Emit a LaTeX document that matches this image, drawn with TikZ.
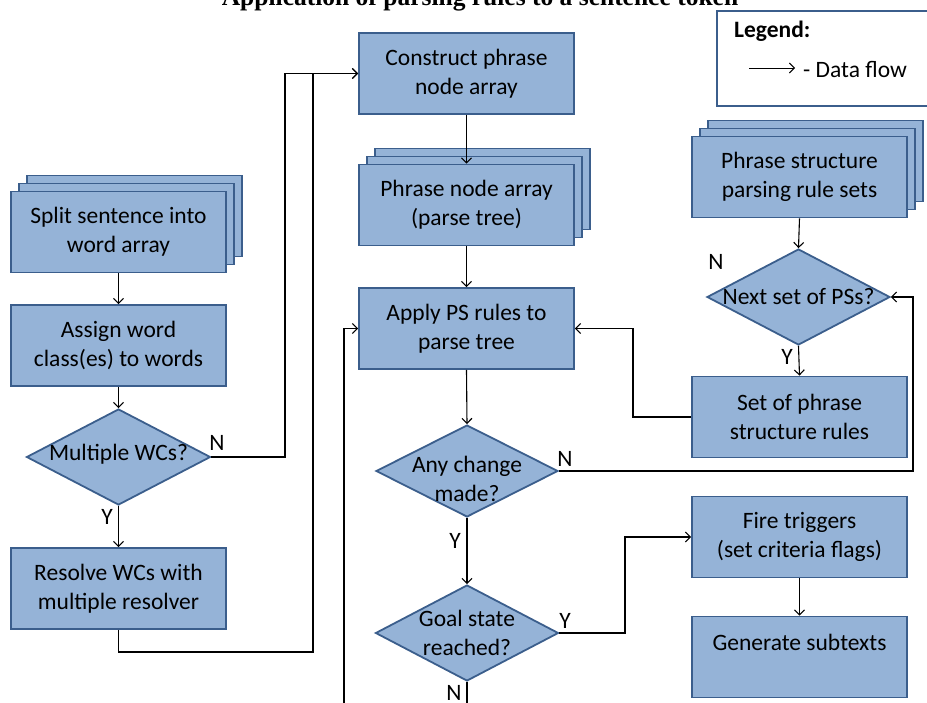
\documentclass[tikz,border=0pt]{standalone}
\usepackage{fontspec}
\setmainfont{Carlito}
\newfontfamily\titlefont{Liberation Serif}
\usetikzlibrary{arrows.meta,shapes.geometric,shadows,calc}
\definecolor{boxfill}{HTML}{95B3D7}
\definecolor{boxline}{HTML}{3B5E8C}
\begin{document}
\begin{tikzpicture}[x=1pt,y=-1pt,
  txt/.style={font=\fontsize{23.5}{29}\selectfont, align=center, text=black},
  proc/.style={txt, rectangle, fill=boxfill, draw=boxline, line width=1.8pt,
    minimum width=215pt, minimum height=81pt, inner sep=0pt},
  stack/.style={proc, double copy shadow={shadow xshift=8pt, shadow yshift=8pt, fill=boxfill, draw=boxline, line width=1.8pt}},
  decision/.style={diamond, fill=boxfill, draw=boxline, line width=1.8pt,
    minimum width=184pt, minimum height=96pt, inner sep=0pt},
  yn/.style={txt, inner sep=0pt},
  arr/.style={-{Straight Barb[length=5pt,width=10pt]}, line width=1.1pt},
  conn/.style={line width=1.1pt}
]
\useasboundingbox (0,0) rectangle (927,702);

% title
\node[anchor=base, font=\titlefont\bfseries\fontsize{25.5}{30}\selectfont, inner sep=0pt] (title) at (480,5) {Application of parsing rules to a sentence token};

% legend
\node[anchor=north west, draw=boxline, line width=1.8pt, fill=white, minimum width=226pt, minimum height=95pt, inner sep=0pt] (legend) at (716,10) {};
\node[txt, anchor=base west, inner sep=0pt, font=\fontsize{23.5}{29}\selectfont\bfseries] (legtitle) at (734,37) {Legend:};
\coordinate (la) at (749,68);
\coordinate (lb) at (795,68);
\draw[-{Straight Barb[length=5pt,width=10pt]}, line width=0.9pt] (la) -- (lb);
\node[txt, anchor=base west, inner sep=0pt] (legtext) at (803,77) {- Data flow};

% left column
\node[stack] (split) at (118.5,232) {Split sentence into\\word array};
\node[proc] (assign) at (118.5,345.5) {Assign word\\class(es) to words};
\node[decision, label={[txt, yshift=3pt]center:{Multiple WCs?}}] (mwc) at (118.5,457) {};
\node[proc] (resolve) at (118.5,588.5) {Resolve WCs with\\multiple resolver};

% middle column
\node[proc] (cons) at (466.5,73.5) {Construct phrase\\node array};
\node[stack] (pna) at (466.5,205) {Phrase node array\\(parse tree)};
\node[proc] (apply) at (466.5,328.5) {Apply PS rules to\\parse tree};
\node[decision, minimum width=182pt, minimum height=92pt, label={[txt, yshift=-8pt]center:{Any change\\made?}}] (ac) at (467,471) {};
\node[decision, minimum width=183pt, label={[txt]center:{Goal state\\reached?}}] (goal) at (467,633) {};

% right column
\node[stack] (psrs) at (799.5,177) {Phrase structure\\parsing rule sets};
\node[decision, minimum width=183pt, label={[txt]center:{Next set of PSs?}}] (ns) at (798.5,297) {};
\node[proc] (set) at (799.5,417) {Set of phrase\\structure rules};
\node[proc] (fire) at (799.5,537) {Fire triggers\\(set criteria flags)};
\node[proc] (gen) at (799.5,657) {Generate subtexts\\\mbox{}};

% Y/N labels
\node[yn] (mwcn) at (217,443) {N};
\node[yn] (mwcy) at (107,517) {Y};
\node[yn] (acn) at (565,459) {N};
\node[yn] (acy) at (455,541) {Y};
\node[yn] (goaly) at (565,621) {Y};
\node[yn] (goaln) at (454,693) {N};
\node[yn] (nsn) at (716,262) {N};
\node[yn] (nsy) at (787,357) {Y};

% connectors
\draw[arr] (split.south) -- (assign.north);
\draw[arr] (assign.south) -- (mwc.north);
\draw[arr] (mwc.south) -- (resolve.north);
\coordinate (mwcbend) at (285,457);
\draw[arr] (mwc.east) -- (mwcbend) |- (cons.west);
\coordinate (resbend) at (313,652);
\draw[arr] (resolve.south) |- (resbend) |- (cons.west);

\draw[arr] (cons.south) -- (pna.north);
\draw[arr] (pna.south) -- (apply.north);
\draw[arr] (apply.south) -- (ac.north);
\draw[arr] (ac.south) -- (goal.north);
\coordinate (gbot) at (467,712);
\draw[conn] (goal.south) -- (gbot);
\coordinate (lbot) at (344,712);
\draw[arr] (lbot) |- (apply.west);

\draw[arr] (psrs.south) -- (ns.north);
\draw[arr] (ns.south) -- (set.north);
\coordinate (setbend) at (633,417);
\draw[arr] (set.west) -- (setbend) |- (apply.east);
\coordinate (acbend) at (913,471);
\draw[arr] (ac.east) -- (acbend) |- (ns.east);

\coordinate (goalbend) at (625,633);
\draw[arr] (goal.east) -- (goalbend) |- (fire.west);
\draw[arr] (fire.south) -- (gen.north);
\end{tikzpicture}
\end{document}
